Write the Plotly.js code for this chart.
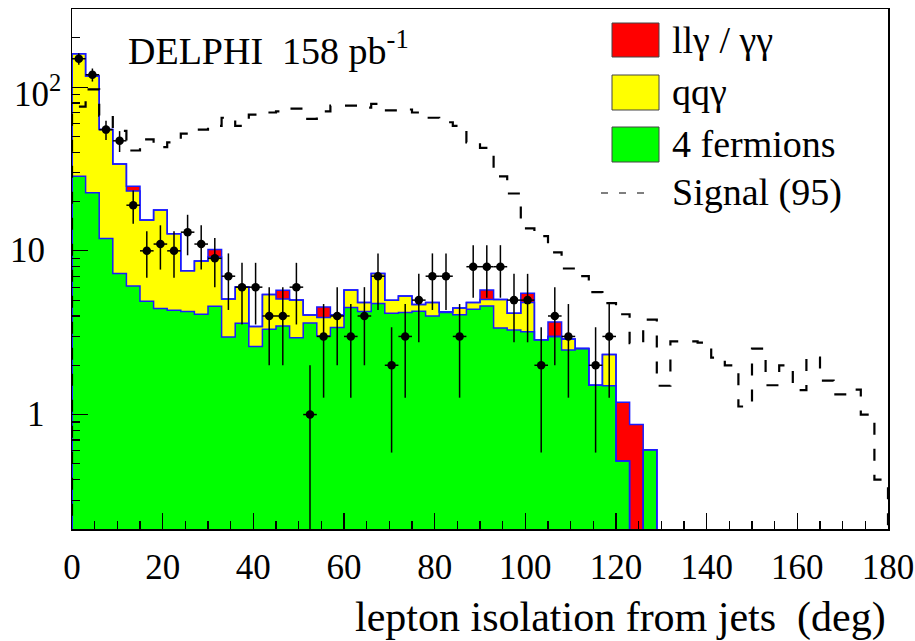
<!DOCTYPE html>
<html>
<head>
<meta charset="utf-8">
<script src="https://cdn.plot.ly/plotly-3.0.1.min.js"></script>
<style>html,body{margin:0;padding:0;background:#fff;}#chart{width:915px;height:641px;}</style>
</head>
<body>
<div id="chart"></div>
<script>
// Bin lower edges (deg), bin width 3 deg
const binLow = [0,3,6,9,12,15,18,21,24,27,30,33,36,39,42,45,48,51,54,57,60,63,66,69,72,75,78,81,84,87,90,93,96,99,102,105,108,111,114,117,120,123,126,129,132,135,138,141,144,147,150,153,156,159,162,165,168,171,174,177];
const binWidth = 3;

// Background: 4 fermions (green)
const fermions4 = [28.5,22.6,11.9,7.26,6.1,4.92,4.44,4.33,4.26,4.10,4.58,2.98,3.61,2.60,3.32,3.48,2.95,3.62,3.02,3.40,4.50,4.26,4.77,4.16,4.20,4.28,4.00,4.20,4.07,4.40,4.60,3.38,3.28,3.20,2.86,3.00,2.48,2.53,1.51,1.50,0.52,0,0.61,0,0,0,0,0,0,0,0,0,0,0,0,0,0,0,0,0];
// Background: qq gamma (yellow)
const qqGamma = [131.5,94.4,43.1,26.7,17.1,10.5,13.3,8.4,3.3,4.56,4.6,2.1,2.4,0.85,2.1,1.6,2.05,0.44,0.89,0.65,1.27,0.57,2.5,0.83,1.1,0.42,0.83,0.05,0.41,0.43,0.45,1.67,0.88,1.63,0,0,0.41,0,0,0.83,0,0,0,0,0,0,0,0,0,0,0,0,0,0,0,0,0,0,0,0];
// Background: ll gamma / gamma gamma (red)
const llGamma = [0,0,0,0,1.6,0,0,0,0,0,1.0,0,0,0,0,0.67,0,0,0.63,0,0,0,0,0,0,0,0,0,0,0,0.72,0,0,0.67,0,0.68,0,0,0,0,0.67,0.87,0,0,0,0,0,0,0,0,0,0,0,0,0,0,0,0,0,0];
// Signal (95) dashed histogram
const signal95 = [76,97,67,54,41,48,43,46,52,55,58,65,58,68,70,71,74,64,71,77,77,75,79,72,73,70,65,61,58,46,42.5,28.5,22.4,13.7,12.3,9.8,7.8,7.0,5.6,4.8,4.1,2.73,3.8,1.5,2.8,2.8,2.75,2.23,2.0,1.12,2.53,1.51,2.0,1.41,2.23,1.61,1.33,1.42,1.0,0.4];
// Data counts
const dataCounts = [149,119,55,47,19,10,11,10,13,11,9,7,6,6,4,4,6,1,3,4,3,4,7,2,3,5,7,7,3,8,8,8,5,5,2,4,3,0,2,3,0,0,0,0,0,0,0,0,0,0,0,0,0,0,0,0,0,0,0,0];

// Axis ticks
const yTickVals = [1,10,100];
const yTickText = ['1','10','10<sup>2</sup>'];
const yMinorVals = [0.2,0.3,0.4,0.5,0.6,0.7,0.8,0.9,2,3,4,5,6,7,8,9,20,30,40,50,60,70,80,90,200,300];

const FONT = 'Liberation Serif, Times New Roman, serif';
const centers = binLow.map(v => v + binWidth/2);
const FLOOR = 1e-3; // draws empty bins below the visible range

function stepTrace(vals, lineStyle){
  const xs = [0], ys = [FLOOR];
  for (let i=0;i<vals.length;i++){ xs.push(binLow[i]); ys.push(vals[i] > 0 ? vals[i] : FLOOR); }
  const last = binLow[binLow.length-1] + binWidth;
  xs.push(last); ys.push(ys[ys.length-1]);
  xs.push(last); ys.push(FLOOR);
  return {x: xs, y: ys, type:'scatter', mode:'lines', line: Object.assign({shape:'hv'}, lineStyle), hoverinfo:'skip', showlegend:false};
}

const cumG = fermions4.slice();
const cumGY = fermions4.map((v,i) => v + qqGamma[i]);
const cumGYR = cumGY.map((v,i) => v + llGamma[i]);

const outline = {color:'#1a1aff', width:1.5};
const traces = [
  {x: centers, y: fermions4, type:'bar', width: binWidth, marker:{color:'#00ff00', line:{width:0}}, name:'4 fermions', showlegend:false},
  {x: centers, y: qqGamma, type:'bar', width: binWidth, marker:{color:'#ffff00', line:{width:0}}, name:'qqγ', showlegend:false},
  {x: centers, y: llGamma, type:'bar', width: binWidth, marker:{color:'#ff0000', line:{width:0}}, name:'llγ / γγ', showlegend:false},
  stepTrace(cumG, outline),
  stepTrace(cumGY, outline),
  stepTrace(cumGYR, outline),
  stepTrace(signal95, {color:'#000', width:2.2, dash:'12px,14px'}),
  {x: centers, y: dataCounts.map(v => v > 0 ? v : null), type:'scatter', mode:'markers',
   marker:{color:'#000', size:8.5},
   error_y:{type:'sqrt', color:'#000', thickness:1.5, width:0},
   error_x:{type:'constant', value: binWidth/2, color:'#000', thickness:1.5, width:0},
   showlegend:false, name:'Data'}
];

const L = 72, R = 888, T = 9, B = 529;
const px = p => (p - L) / (R - L);
const py = p => (B - p) / (B - T);

const legendBoxes = [
  {color:'#ff0000', y0:23, y1:57, text:'llγ / γγ'},
  {color:'#ffff00', y0:75, y1:110, text:'qqγ'},
  {color:'#00ff00', y0:127, y1:162, text:'4 fermions'}
];
const shapes = legendBoxes.map(b => ({type:'rect', xref:'paper', yref:'paper', x0:px(612), x1:px(659), y0:py(b.y1), y1:py(b.y0), fillcolor:b.color, line:{color:'#444', width:1}}));
shapes.push({type:'line', xref:'paper', yref:'paper', x0:px(601), x1:px(655), y0:py(193), y1:py(193), line:{color:'#000', width:1.2, dash:'7px,11px'}});

const annotations = legendBoxes.map(b => ({xref:'paper', yref:'paper', x:px(670), y:py((b.y0+b.y1)/2), xanchor:'left', yanchor:'middle', text:b.text, showarrow:false, font:{family:FONT, size:38, color:'#000'}}));
annotations.push({xref:'paper', yref:'paper', x:px(670), y:py(193), xanchor:'left', yanchor:'middle', text:'Signal (95)', showarrow:false, font:{family:FONT, size:38, color:'#000'}});
annotations.push({xref:'paper', yref:'paper', x:px(126), y:py(48), xanchor:'left', yanchor:'middle', text:'DELPHI\u00a0\u00a0158 pb<sup>-1</sup>', showarrow:false, font:{family:FONT, size:38, color:'#000'}});
annotations.push({xref:'paper', yref:'paper', x:1, y:py(617), xanchor:'right', yanchor:'middle', text:'lepton isolation from jets\u00a0\u00a0(deg)', showarrow:false, font:{family:FONT, size:42, color:'#000'}});
// y tick labels (placed as in the reference: the 10^2 label sits closer to the axis)
const yLabelRight = [47, 47, 63];
yTickVals.forEach((v,i) => {
  annotations.push({xref:'paper', yref:'y', x:px(yLabelRight[i]), y:Math.log10(v), xanchor:'right', yanchor:'middle', yshift: i===2 ? -4 : 0,
    text: yTickText[i], showarrow:false, font:{family:FONT, size:35, color:'#000'}});
});

const layout = {
  width:915, height:641,
  margin:{l:L, r:915-R, t:T, b:641-B, pad:0},
  paper_bgcolor:'#fff', plot_bgcolor:'#fff',
  barmode:'stack', bargap:0,
  showlegend:false,
  font:{family:FONT, color:'#000'},
  xaxis:{range:[0,180], showgrid:false, zeroline:false, showline:true, linecolor:'#000', linewidth:1.5, mirror:true,
         ticks:'inside', ticklen:16, tickwidth:1.2, tickcolor:'#000', tick0:0, dtick:20,
         minor:{ticks:'inside', ticklen:8, tickwidth:1.2, tickcolor:'#000', dtick:5, tick0:0, showgrid:false},
         tickfont:{family:FONT, size:35, color:'#000'}, ticklabelstandoff:6},
  yaxis:{type:'log', range:[Math.log10(0.2), Math.log10(300)], showgrid:false, zeroline:false, showline:true, linecolor:'#000', linewidth:1.5, mirror:true,
         ticks:'inside', ticklen:16, tickwidth:1.2, tickcolor:'#000', tickmode:'array', tickvals:yTickVals, showticklabels:false,
         minor:{ticks:'inside', ticklen:8, tickwidth:1.2, tickcolor:'#000', tickmode:'array', tickvals:yMinorVals, showgrid:false}},
  shapes: shapes,
  annotations: annotations
};

Plotly.newPlot('chart', traces, layout, {staticPlot:true, displayModeBar:false});
</script>
</body>
</html>
